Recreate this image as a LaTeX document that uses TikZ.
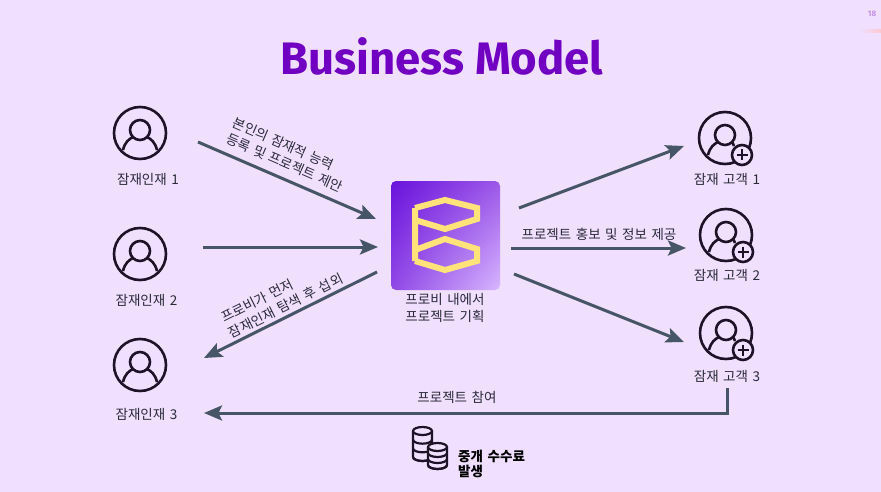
\documentclass[tikz,border=0pt]{standalone}
\usepackage{fontspec}
\setmainfont{Noto Sans CJK KR}[WordSpace=1.5]
\newfontfamily\titlefont{Fira Sans}
\usetikzlibrary{arrows.meta,shadings}
\definecolor{bgc}{HTML}{F0DFFF}
\definecolor{ttl}{HTML}{7000C2}
\definecolor{arr}{HTML}{475569}
\definecolor{ink}{HTML}{1E1228}
\definecolor{txt}{HTML}{2A2A38}
\definecolor{gold}{HTML}{FFE27A}
\definecolor{gul}{HTML}{6A12DC}
\definecolor{gur}{HTML}{9C58E8}
\definecolor{gll}{HTML}{9048E6}
\definecolor{glr}{HTML}{D8B6FF}
\tikzset{
  x=1pt,y=-1pt,
  flow/.style={draw=arr,line width=3pt,-{Stealth[length=18pt,width=15pt,inset=3.5pt]}},
  lbl/.style={font=\fontsize{13.5}{17}\selectfont,text=txt,align=center,inner sep=0pt},
  lbll/.style={lbl,align=left},
  strong/.style={font=\fontsize{13.5}{15}\selectfont\bfseries,text=black,align=left,inner sep=0pt,anchor=west},
  icon/.style={draw=ink,line width=2.6pt},
  pics/person/.style={code={
    \draw[icon] (0,0) circle (26);
    \draw[icon] (0,-3) circle (10);
    \draw[icon] (-17,17) .. controls (-15,9) and (-11,6) .. (-7,4);
    \draw[icon] (17,17) .. controls (15,9) and (11,6) .. (7,4);
  }},
  pics/client/.style={code={
    \draw[icon] (0,0) circle (26);
    \draw[icon] (0,-3) circle (10);
    \draw[icon] (-17,17) .. controls (-15,9) and (-11,6) .. (-7,4);
    \draw[icon] (9,8) .. controls (8,6) and (8,5) .. (7,4);
    \draw[icon,fill=bgc] (17,17) circle (10);
    \draw[draw=ink,line width=2.4pt] (11.5,17) -- (22.5,17) (17,11.5) -- (17,22.5);
  }},
  coin/.style={draw=ink,line width=2.2pt,fill=bgc},
}
\newcommand{\coinstack}[3]{%
  \begin{scope}[shift={(#1,#2)}]
    \draw[coin] (-9.5,0) -- (-9.5,#3) arc[x radius=9.5,y radius=-4,start angle=180,end angle=360] -- (9.5,0);
    \foreach \k in {1,...,3}{\draw[draw=ink,line width=2.2pt] (-9.5,{\k*#3/3-0}) arc[x radius=9.5,y radius=-4,start angle=180,end angle=360];}
    \draw[coin] (0,0) ellipse (9.5 and 4);
  \end{scope}}
\begin{document}
\begin{tikzpicture}
\useasboundingbox (0,0) rectangle (881,492);
\fill[bgc] (0,0) rectangle (881,492);
\node[inner sep=0pt,text=ttl,font=\fontsize{45.5}{50}\selectfont\titlefont\bfseries] (title) at (442,56) {Business Model};
\node[inner sep=0pt,text=ttl!35!bgc,font=\fontsize{8}{9}\selectfont\titlefont\bfseries] (pg) at (872,14) {18};
\fill[left color=bgc,right color=pink!70!bgc] (859,30) rectangle (881,33);

% people on the left
\pic at (140,133) {person};
\pic at (140,254) {person};
\pic at (140,365) {person};
\node[lbl] (p1) at (148,179) {잠재인재 1};
\node[lbl] (p2) at (146.5,300) {잠재인재 2};
\node[lbl] (p3) at (146.5,414) {잠재인재 3};

% clients on the right
\pic at (725,138) {client};
\pic at (726,235) {client};
\pic at (726,333) {client};
\node[lbl] (c1) at (727,179) {잠재 고객 1};
\node[lbl] (c2) at (727,275) {잠재 고객 2};
\node[lbl] (c3) at (727,376) {잠재 고객 3};

% centre logo
\shade[rounded corners=5pt,upper left=gul,upper right=gur,lower left=gll,lower right=glr] (391,181) rectangle (500,290);
\draw[draw=gold,line width=6pt,line join=miter] (415,208) -- (445,200) -- (477,208) -- (477,219) -- (445,229) -- (415,220) (415,261) -- (415,208)
  (415,250) -- (445,239) -- (477,249) -- (477,261) -- (445,270) -- (415,261);
\node[lbl] (centre) at (445,308) {프로비 내에서\\프로젝트 기획};

% connector ends
\coordinate (a1s) at (198,142); \coordinate (a1e) at (376,219);
\coordinate (a2s) at (203,247); \coordinate (a2e) at (378,247);
\coordinate (a3s) at (377,272); \coordinate (a3e) at (204,358);
\coordinate (r1s) at (519,208); \coordinate (r1e) at (684,146);
\coordinate (r2s) at (511,248); \coordinate (r2e) at (686,248);
\coordinate (r3s) at (514,274); \coordinate (r3e) at (684,342);
\coordinate (bs) at (727,388); \coordinate (bc) at (727,413); \coordinate (be) at (204,413);
\draw[flow] (a1s) -- (a1e);
\draw[flow] (a2s) -- (a2e);
\draw[flow] (a3s) -- (a3e);
\draw[flow] (r1s) -- (r1e);
\draw[flow] (r2s) -- (r2e);
\draw[flow] (r3s) -- (r3e);
\draw[flow] (bs) -- (bc) -- (be);

% connector labels
\node[lbll,rotate=-23.5] (l1) at (288,155) {본인의 잠재적 능력\\등록 및 프로젝트 제안};
\node[lbll,rotate=26.5] (l2) at (282,298) {프로비가 먼저\\잠재인재 탐색 후 섭외};
\node[lbl] (l3) at (599,234) {프로젝트 홍보 및 정보 제공};
\node[lbl] (l4) at (457,397) {프로젝트 참여};

% coins
\coinstack{422.5}{431}{26}
\coinstack{437.5}{447}{18}
\node[strong] (fee) at (458,463.5) {중개 수수료\\발생};
\end{tikzpicture}
\end{document}
